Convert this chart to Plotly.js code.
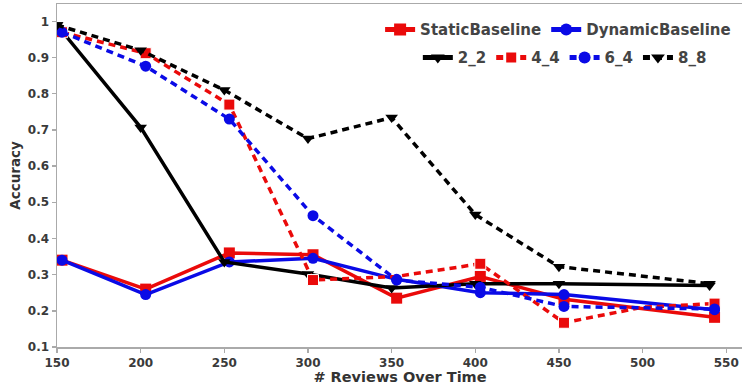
<!DOCTYPE html>
<html>
<head>
<meta charset="utf-8">
<script src="https://cdn.plot.ly/plotly-3.0.1.min.js"></script>
<style>
html,body{margin:0;padding:0;overflow:hidden;background:#fff;}
#chart{width:760px;height:385px;}
</style>
</head>
<body>
<div id="chart"></div>
<script>
// x positions (black series on the ticks, colored series slightly offset as in the figure)
var xBlack = [150, 200, 250, 300, 350, 400, 450, 540];
var xColor = [153, 203, 253, 303, 353, 403, 453, 543];
var xColor44 = [153, 203, 253, 303, 353, 403, 453, 500, 543];

var staticBaseline  = [0.34, 0.26, 0.36, 0.355, 0.235, 0.295, 0.232, 0.182];
var dynamicBaseline = [0.34, 0.245, 0.335, 0.345, 0.287, 0.25, 0.245, 0.203];
var s2_2 = [0.99, 0.707, 0.335, 0.302, 0.263, 0.275, 0.275, 0.27];
var s4_4 = [0.97, 0.912, 0.77, 0.285, 0.295, 0.33, 0.167, 0.21, 0.22];
var s6_4 = [0.97, 0.876, 0.73, 0.463, 0.285, 0.265, 0.212, 0.205];
var s8_8 = [0.99, 0.92, 0.81, 0.676, 0.734, 0.466, 0.322, 0.275];

var names = ['StaticBaseline', 'DynamicBaseline', '2_2', '4_4', '6_4', '8_8'];
var yTicks = [0.1, 0.2, 0.3, 0.4, 0.5, 0.6, 0.7, 0.8, 0.9, 1];
var yTickText = ['0.1', '0.2', '0.3', '0.4', '0.5', '0.6', '0.7', '0.8', '0.9', '1'];
var xTicks = [150, 200, 250, 300, 350, 400, 450, 500, 550];

var RED = '#ea0a0a', BLUE = '#0a0ae6', BLACK = '#000000';
var DASH = '7px,5px';
var LW = 3.5, MS = 11;

var traces = [
  {x: xColor, y: staticBaseline, name: names[0], legend: 'legend',
   mode: 'lines+markers', line: {color: RED, width: LW},
   marker: {symbol: 'square', size: MS, color: RED, opacity: 1}},
  {x: xColor, y: dynamicBaseline, name: names[1], legend: 'legend',
   mode: 'lines+markers', line: {color: BLUE, width: LW},
   marker: {symbol: 'circle', size: MS, color: BLUE, opacity: 1}},
  {x: xBlack, y: s2_2, name: names[2], legend: 'legend2',
   mode: 'lines+markers', line: {color: BLACK, width: LW},
   marker: {symbol: 'triangle-down', size: MS, color: BLACK, opacity: 1}},
  {x: xColor44, y: s4_4, name: names[3], legend: 'legend2',
   mode: 'lines+markers', line: {color: RED, width: LW, dash: DASH},
   marker: {symbol: 'square', size: [MS,MS,MS,MS,0,MS,MS,0,MS], color: RED, opacity: 1}},
  {x: xColor, y: s6_4, name: names[4], legend: 'legend2',
   mode: 'lines+markers', line: {color: BLUE, width: LW, dash: DASH},
   marker: {symbol: 'circle', size: MS, color: BLUE, opacity: 1}},
  {x: xBlack, y: s8_8, name: names[5], legend: 'legend2',
   mode: 'lines+markers', line: {color: BLACK, width: LW, dash: DASH},
   marker: {symbol: 'triangle-down', size: MS, color: BLACK, opacity: 1}}
];

var tickFont = {family: 'DejaVu Sans', size: 12, color: '#3a3a3a', weight: 'bold'};
var legFont = {family: 'DejaVu Sans', size: 15, color: '#444', weight: 'bold'};

var layout = {
  width: 760, height: 385,
  margin: {l: 57, r: 17, t: 4, b: 38, pad: 0},
  paper_bgcolor: '#fff', plot_bgcolor: '#fff',
  showlegend: true,
  xaxis: {
    range: [150, 560], tickvals: xTicks, ticktext: xTicks.map(String),
    showgrid: false, zeroline: false,
    showline: true, linecolor: '#aaa', linewidth: 1.5, mirror: true,
    ticks: 'outside', ticklen: 4, tickcolor: '#aaa', tickwidth: 1.5,
    tickfont: tickFont,
    title: {text: '# Reviews Over Time', font: {family: 'DejaVu Sans', size: 14.5, color: '#333', weight: 'bold'}, standoff: 2}
  },
  yaxis: {
    range: [0.1, 1.048], tickvals: yTicks, ticktext: yTickText,
    showgrid: false, zeroline: false,
    showline: true, linecolor: '#aaa', linewidth: 1.5, mirror: true,
    ticks: 'outside', ticklen: 4, tickcolor: '#aaa', tickwidth: 1.5,
    tickfont: tickFont,
    title: {text: 'Accuracy', font: {family: 'DejaVu Sans', size: 13.5, color: '#333', weight: 'bold'}, standoff: 4}
  },
  legend: {orientation: 'h', x: 0.471, y: 0.925, xanchor: 'left', yanchor: 'middle',
           bgcolor: 'rgba(255,255,255,0)', font: legFont, itemwidth: 30, tracegroupgap: 0,
           itemsizing: 'constant'},
  legend2: {orientation: 'h', x: 0.526, y: 0.843, xanchor: 'left', yanchor: 'middle',
           bgcolor: 'rgba(255,255,255,0)', font: legFont, itemwidth: 30, tracegroupgap: 0,
           itemsizing: 'constant'}
};

Plotly.newPlot('chart', traces, layout, {displayModeBar: false, staticPlot: true});
</script>
</body>
</html>
